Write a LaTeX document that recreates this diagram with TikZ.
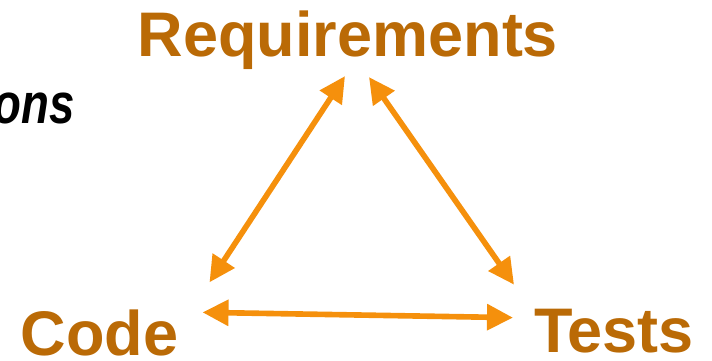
\documentclass[tikz,border=0pt]{standalone}
\usepackage{fontspec}
\setmainfont{Liberation Sans}
\usetikzlibrary{arrows.meta}
\usetikzlibrary{positioning}
\usepackage{xcolor}
\definecolor{rust}{HTML}{BA6A06}
\definecolor{amber}{HTML}{F5900C}

\begin{document}
\begin{tikzpicture}[
  x=0.025cm, y=0.025cm,
  corner/.style={inner sep=0pt, outer sep=0pt, anchor=base west,
    text=rust, font=\fontsize{44.8}{50}\selectfont\bfseries},
  arrow/.style={{Triangle[length=0.65cm, width=0.63cm]}-{Triangle[length=0.65cm, width=0.63cm]},
    line width=4pt, draw=amber},
]
\useasboundingbox (0,0) rectangle (712,361);

% === Cropped heading on the left ===
\node[inner sep=0pt, anchor=base east, xscale=0.8,
  font=\fontsize{40.5}{44}\selectfont\bfseries\itshape] (heading) at (75,237) {ons};

% === Three corners ===
\node[corner, anchor=base] (req) at (348,304) {Requirements};
\node[corner] (code) at (21,5) {Code};
\node[corner] (tests) at (534,8) {Tests};

% === Two-way links ===
\draw[arrow] ([shift={(-3,-6)}]req.south) -- ([shift={(31,28)}]code.north east);
\draw[arrow] ([shift={(21,-7)}]req.south) -- ([shift={(-20,25)}]tests.north west);
\draw[arrow] ([shift={(24,-2)}]code.north east) -- ([shift={(-21,-8)}]tests.north west);
\end{tikzpicture}
\end{document}
